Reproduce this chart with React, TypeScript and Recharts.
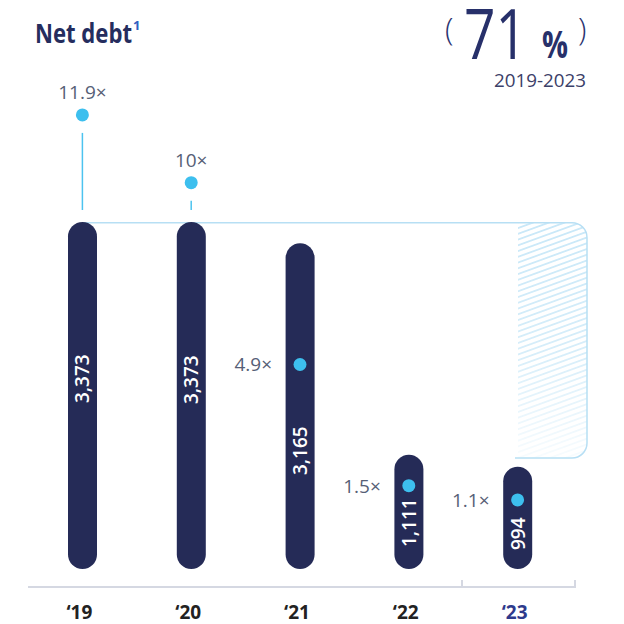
import { Bar, ComposedChart, Line, XAxis, YAxis } from 'recharts';

// values
const years = ['\u201819', '\u201820', '\u201821', '\u201822', '\u201823'];
const netDebt = [3373, 3373, 3165, 1111, 994];
const debtLabels = ['3,373', '3,373', '3,165', '1,111', '994'];
const leverage = [11.9, 10, 4.9, 1.5, 1.1];
const leverageLabels = ['11.9\u00d7', '10\u00d7', '4.9\u00d7', '1.5\u00d7', '1.1\u00d7'];

const data = years.map((year, i) => ({
  year,
  debt: netDebt[i],
  debtLabel: debtLabels[i],
  lev: leverage[i],
  levLabel: leverageLabels[i],
}));

// layout tweaks (not data)
const levLabelSide = ['top', 'top', 'left', 'left', 'left'];
const debtLabelLift = [166, 165, 94, 22, 19];
const CONNECTOR_END = 210;

const FONT = "'Open Sans', sans-serif";
const NAVY = '#252b57';
const CYAN = '#3dbfee';

const DebtBar = (p: any) => {
  const { x, y, width, height, index, payload } = p;
  if (!height || height <= 0) return null;
  const cx = x + width / 2;
  const ty = y + height - debtLabelLift[index];
  return (
    <g>
      <rect x={x} y={y} width={width} height={height} rx={width / 2} ry={width / 2} fill={NAVY} />
      <text
        x={cx}
        y={ty}
        transform={`rotate(-90 ${cx} ${ty})`}
        textAnchor="start"
        dominantBaseline="central"
        fill="#fff"
        fontFamily={FONT}
        fontSize={19}
        fontWeight={600}
      >
        {payload.debtLabel}
      </text>
    </g>
  );
};

const LevDot = (p: any) => {
  const { cx, cy, index, payload } = p;
  if (cx == null || cy == null) return <g key={`d${index}`} />;
  const side = levLabelSide[index];
  return (
    <g key={`d${index}`}>
      {side === 'top' && (
        <line x1={cx} y1={cy + 18} x2={cx} y2={CONNECTOR_END} stroke="#4cc3ef" strokeWidth={1.5} />
      )}
      <circle cx={cx} cy={cy} r={6.5} fill={CYAN} />
      {side === 'top' ? (
        <text x={cx} y={cy - 16} textAnchor="middle" fill="#566076" fontFamily={FONT} fontSize={19}>
          {payload.levLabel}
        </text>
      ) : (
        <text x={cx - 28} y={cy} textAnchor="end" dominantBaseline="central" fill="#566076" fontFamily={FONT} fontSize={19}>
          {payload.levLabel}
        </text>
      )}
    </g>
  );
};

const YearTick = (p: any) => {
  const { x, y, payload } = p;
  const last = payload.value === years[years.length - 1];
  return (
    <text
      x={x - 3}
      y={y + 32}
      textAnchor="middle"
      fill={last ? '#2e3a8c' : '#222222'}
      fontFamily={FONT}
      fontSize={19}
      fontWeight={700}
    >
      {payload.value}
    </text>
  );
};

export default function App() {
  return (
    <div style={{ position: 'absolute', left: 0, top: 0, width: 624, height: 624, background: '#fff', fontFamily: FONT }}>
      <svg width={624} height={624} style={{ position: 'absolute', left: 0, top: 0 }}>
        <defs>
          <pattern id="hatch" width="6" height="5.4" patternUnits="userSpaceOnUse" patternTransform="rotate(-20)">
            <line x1="0" y1="2.7" x2="6" y2="2.7" stroke="#a6daf3" strokeWidth="1.1" />
          </pattern>
          <linearGradient id="fade" x1="0" y1="0" x2="0" y2="1">
            <stop offset="0" stopColor="#fff" stopOpacity="1" />
            <stop offset="0.55" stopColor="#fff" stopOpacity="0.75" />
            <stop offset="1" stopColor="#fff" stopOpacity="0.12" />
          </linearGradient>
          <mask id="fadeMask">
            <rect x="518" y="222" width="70" height="237" fill="url(#fade)" />
          </mask>
        </defs>
        <path
          d="M518 222.7 H572 A15 15 0 0 1 587 237.7 V443 A15 15 0 0 1 572 458 H518 Z"
          fill="url(#hatch)"
          mask="url(#fadeMask)"
        />
        <path
          d="M83 222.7 H572 A15 15 0 0 1 587 237.7 V443 A15 15 0 0 1 572 458 H515"
          fill="none"
          stroke="#b7dff4"
          strokeWidth="1.5"
        />
        <line x1="570" y1="587" x2="575" y2="587" stroke="#d5d8e2" strokeWidth="2" />
        <line x1="462" y1="580" x2="462" y2="587" stroke="#d5d8e2" strokeWidth="2" />
        <line x1="575" y1="580" x2="575" y2="588" stroke="#d5d8e2" strokeWidth="2" />

        <text x={35} y={43} fill="#252d5e" fontFamily={FONT} fontWeight={700}>
          <tspan fontSize={26} textLength={97} lengthAdjust="spacingAndGlyphs">
            Net debt
          </tspan>
          <tspan dx={1} dy={-13} fontSize={13} fill="#3160c0">
            1
          </tspan>
        </text>

        <text x={445} y={40} fill="#2b3370" fontFamily={FONT} fontSize={31} fontWeight={300}>
          (
        </text>
        <text x={464} y={59} fill="#27306a" fontFamily={FONT} fontSize={70} fontWeight={400} textLength={63} lengthAdjust="spacingAndGlyphs">
          71
        </text>
        <text x={542} y={58} fill="#27306a" fontFamily={FONT} fontSize={38} fontWeight={700} textLength={26} lengthAdjust="spacingAndGlyphs">
          %
        </text>
        <text x={578} y={40} fill="#2b3370" fontFamily={FONT} fontSize={31} fontWeight={300}>
          )
        </text>
        <text x={494} y={87} fill="#3b4068" fontFamily={FONT} fontSize={19} textLength={92} lengthAdjust="spacingAndGlyphs">
          2019-2023
        </text>
      </svg>

      <div style={{ position: 'absolute', left: 0, top: 0 }}>
        <ComposedChart width={624} height={624} data={data} margin={{ top: 60, right: 52, bottom: 0, left: 28 }}>
          <XAxis
            dataKey="year"
            height={37}
            interval={0}
            tickLine={false}
            tickSize={0}
            tickMargin={0}
            axisLine={{ stroke: '#d5d8e2', strokeWidth: 2 }}
            tick={<YearTick />}
          />
          <YAxis yAxisId="d" type="number" domain={[-175, 4947]} hide />
          <YAxis yAxisId="m" type="number" domain={[-1.341, 13.44]} hide orientation="right" />
          <Bar yAxisId="d" dataKey="debt" barSize={29} shape={<DebtBar />} isAnimationActive={false} />
          <Line
            yAxisId="m"
            dataKey="lev"
            stroke="none"
            dot={<LevDot />}
            activeDot={false}
            isAnimationActive={false}
          />
        </ComposedChart>
      </div>
    </div>
  );
}
